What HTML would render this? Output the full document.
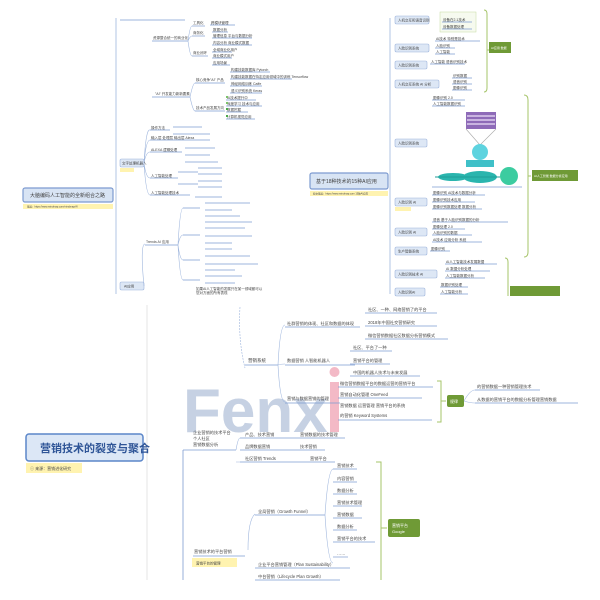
<!DOCTYPE html>
<html><head><meta charset="utf-8"><style>
body{margin:0;background:#fff;width:600px;height:600px;overflow:hidden}
svg{display:block}
text{font-family:"Liberation Sans","Noto Sans CJK SC",sans-serif;fill:#444}
.s{font-size:3.5px}
.m{font-size:5.5px}
.u{stroke:#7d9bd0;stroke-width:0.7;fill:none}
.c{stroke:#9fb6dd;stroke-width:0.6;fill:none}
.box{fill:#dde7f5;stroke:#9db4dc;stroke-width:0.6}
.g{fill:#6f9a36}
.gb{stroke:#a6c46a;stroke-width:1;fill:none}
.y{fill:#fff3b0}
</style></head><body>
<svg width="600" height="600" viewBox="0 0 600 600">
<!-- Panel 1 -->
<line x1="116" y1="18" x2="116" y2="294" stroke="#9fb6dd" stroke-width="0.8"/>
<line x1="120" y1="20" x2="185" y2="20" class="u"/>
<rect x="23" y="188" width="90" height="14" rx="2" fill="#d8e4f4" stroke="#7d9bd0" stroke-width="1.2"/>
<text x="30" y="197" class="m" style="font-size:5px">大脑编码人工智能的全新组合之路</text>
<rect x="23" y="204" width="90" height="5" class="y"/>
<text x="27" y="207.5" class="s" style="font-size:2.5px">链接：https://www.mindmap.com/mindmap/AI</text>
<g>
<text x="153" y="39" class="s">资源整合统一的商业化</text><line x1="152" y1="41" x2="188" y2="41" class="u"/>
<text x="193" y="24" class="s">工具化</text><text x="193" y="34" class="s">商务化</text><text x="193" y="54" class="s">商业闭环</text>
<line x1="192" y1="26" x2="205" y2="26" class="u"/><line x1="192" y1="36" x2="205" y2="36" class="u"/><line x1="192" y1="56" x2="208" y2="56" class="u"/>
<path d="M188 41 Q190 26 192 26 M188 41 Q190 36 192 36 M188 41 Q190 56 192 56" class="c"/>
<g class="u"><line x1="210" y1="25" x2="235" y2="25"/><line x1="212" y1="32" x2="228" y2="32"/><line x1="212" y1="38" x2="252" y2="38"/><line x1="212" y1="45" x2="252" y2="45"/><line x1="212" y1="52" x2="232" y2="52"/><line x1="212" y1="58" x2="232" y2="58"/><line x1="212" y1="65" x2="230" y2="65"/></g>
<text x="211" y="24" class="s">跨模块管理</text><text x="213" y="31" class="s">数据分析</text><text x="213" y="37" class="s">管理信息 平台与数据分析</text><text x="213" y="44" class="s">内容分析 商业模式数据</text><text x="213" y="51" class="s">全域商业化用户</text><text x="213" y="57" class="s">商业模式用户</text><text x="213" y="64" class="s">应用场景</text>
<text x="155" y="95" class="s">"AI" 开发能力新新要素</text><line x1="152" y1="97" x2="190" y2="97" class="u"/>
<text x="196" y="81" class="s">核心竞争"AI" 产品</text><line x1="195" y1="83" x2="225" y2="83" class="u"/>
<text x="196" y="109" class="s">技术产品发展方向</text><line x1="195" y1="111" x2="225" y2="111" class="u"/>
<path d="M190 97 Q193 83 195 83 M190 97 Q193 111 195 111" class="c"/>
<g class="u"><line x1="230" y1="72" x2="270" y2="72"/><line x1="230" y1="79" x2="292" y2="79"/><line x1="230" y1="86" x2="262" y2="86"/><line x1="230" y1="93" x2="262" y2="93"/><line x1="226" y1="100" x2="256" y2="100"/><line x1="226" y1="106" x2="262" y2="106"/><line x1="226" y1="112" x2="248" y2="112"/><line x1="226" y1="119" x2="255" y2="119"/></g>
<text x="231" y="71" class="s">构建技能数据库 Pytorch</text><text x="231" y="78" class="s">构建技能数据在特定应用领域中的训练 Tensorflow</text><text x="231" y="85" class="s">神经网络训练 Caffe</text><text x="231" y="92" class="s">语义识别系统 Keras</text>
<text x="227" y="99" class="s">AI技术提升中</text><text x="227" y="105" class="s">深度学习 技术与应用</text><text x="227" y="111" class="s">数据挖掘</text><text x="227" y="118" class="s">计算机视觉应用</text>
<rect x="226" y="96" width="2" height="2" fill="#7cc36a"/><rect x="226" y="102" width="2" height="2" fill="#7cc36a"/><rect x="226" y="108" width="2" height="2" fill="#4caa4a"/><rect x="226" y="115" width="2" height="2" fill="#4caa4a"/>
<rect x="120" y="159" width="24" height="8" rx="1.5" class="box"/><text x="122" y="164.5" class="s">文字处理机器人</text>
<rect x="120" y="168" width="14" height="4" class="y"/>
<path d="M144 163 Q146 128 150 130 M144 163 Q146 140 150 140 M144 163 Q146 152 150 152 M144 163 Q146 178 150 178 M144 163 Q146 195 150 195" class="c"/>
<g class="u"><line x1="150" y1="130" x2="170" y2="130"/><line x1="150" y1="140" x2="210" y2="140"/><line x1="150" y1="152" x2="182" y2="152"/><line x1="150" y1="178" x2="178" y2="178"/><line x1="150" y1="195" x2="190" y2="195"/>
<line x1="173" y1="127" x2="202" y2="127"/><line x1="173" y1="134" x2="210" y2="134"/><line x1="185" y1="148" x2="215" y2="148"/><line x1="185" y1="155" x2="210" y2="155"/><line x1="185" y1="162" x2="218" y2="162"/><line x1="178" y1="172" x2="198" y2="172"/><line x1="198" y1="168" x2="222" y2="168"/><line x1="198" y1="174" x2="222" y2="174"/><line x1="178" y1="184" x2="198" y2="184"/><line x1="198" y1="181" x2="222" y2="181"/><line x1="198" y1="187" x2="222" y2="187"/><line x1="195" y1="197" x2="222" y2="197"/></g>
<text x="151" y="129" class="s">操作方法</text><text x="151" y="139" class="s">输入层 处理层 输出层 Alexa</text><text x="151" y="151" class="s">ALEXA 逻辑处理</text><text x="151" y="177" class="s">人工智能处理</text><text x="151" y="194" class="s">人工智能处理技术</text>
<rect x="120" y="282" width="24" height="8" rx="1.5" class="box"/><text x="124" y="287.5" class="s">AI应用</text>
<path d="M144 286 Q140 244 145 244" class="c"/>
<text x="146" y="243" class="s">Trends AI 应用</text><line x1="145" y1="245" x2="178" y2="245" class="u"/>
<path d="M178 245 Q180 208 183 208 M178 245 Q180 235 183 235 M178 245 Q180 260 183 260 M178 245 Q180 280 183 280" class="c"/>
<g class="u"><line x1="183" y1="208" x2="200" y2="208"/><line x1="183" y1="235" x2="200" y2="235"/><line x1="183" y1="260" x2="200" y2="260"/><line x1="183" y1="280" x2="200" y2="280"/>
<line x1="205" y1="203" x2="250" y2="203"/><line x1="205" y1="210" x2="232" y2="210"/><line x1="205" y1="216" x2="240" y2="216"/><line x1="205" y1="222" x2="252" y2="222"/><line x1="205" y1="228" x2="245" y2="228"/><line x1="205" y1="236" x2="252" y2="236"/><line x1="205" y1="243" x2="232" y2="243"/><line x1="205" y1="249" x2="232" y2="249"/><line x1="205" y1="256" x2="250" y2="256"/><line x1="205" y1="264" x2="258" y2="264"/><line x1="205" y1="270" x2="235" y2="270"/><line x1="205" y1="276" x2="242" y2="276"/><line x1="205" y1="283" x2="235" y2="283"/></g>
<text x="196" y="290" class="s">如果AI人工智能的发展只在某一领域都可以</text><text x="196" y="294" class="s">您对方面的所有表现</text>
</g>
<!-- Panel 2 -->
<line x1="390" y1="18" x2="390" y2="294" stroke="#9fb6dd" stroke-width="0.8"/>
<rect x="310" y="173" width="78" height="16" rx="2" fill="#d8e4f4" stroke="#7d9bd0" stroke-width="1.2"/>
<text x="316" y="183" class="m" style="font-size:5px">基于18种技术的15种AI应用</text>
<rect x="310" y="191" width="78" height="5" class="y"/>
<text x="313" y="194.5" class="s" style="font-size:2.5px">原文链接：https://www.mindmap.com 15种AI应用</text>
<g>
<rect x="395" y="16" width="34" height="8" rx="1.5" class="box"/><rect x="395" y="44" width="34" height="8" rx="1.5" class="box"/><rect x="395" y="61" width="32" height="8" rx="1.5" class="box"/><rect x="395" y="80" width="44" height="8" rx="1.5" class="box"/>
<rect x="395" y="139" width="32" height="8" rx="1.5" class="box"/><rect x="395" y="198" width="32" height="8" rx="1.5" class="box"/><rect x="395" y="228" width="32" height="8" rx="1.5" class="box"/><rect x="395" y="247" width="32" height="8" rx="1.5" class="box"/><rect x="395" y="270" width="42" height="8" rx="1.5" class="box"/><rect x="395" y="288" width="30" height="8" rx="1.5" class="box"/>
<text x="398" y="21.5" class="s">人机交互和语音识别</text><text x="398" y="49.5" class="s">人脸识别系统</text><text x="398" y="66.5" class="s">人脸识别系统</text><text x="398" y="85.5" class="s">人机交互系统 AI 分析</text><text x="398" y="144.5" class="s">人脸识别系统</text><text x="398" y="203.5" class="s">人脸识别 AI</text><text x="398" y="233.5" class="s">人脸识别 AI</text><text x="398" y="252.5" class="s">生产智能系统</text><text x="398" y="275.5" class="s">人脸识别技术 AI</text><text x="398" y="293.5" class="s">人脸识别AI</text>
<rect x="395" y="207" width="16" height="4" class="y"/>
<rect x="440" y="12" width="36" height="20" fill="#f6faef" stroke="#c6dba0" stroke-width="0.5"/>
<g class="u"><line x1="442" y1="22" x2="472" y2="22"/><line x1="442" y1="29" x2="472" y2="29"/><line x1="435" y1="41" x2="480" y2="41"/><line x1="435" y1="48" x2="455" y2="48"/><line x1="435" y1="54" x2="455" y2="54"/><line x1="430" y1="64" x2="465" y2="64"/><line x1="452" y1="78" x2="472" y2="78"/><line x1="452" y1="84" x2="472" y2="84"/><line x1="452" y1="90" x2="472" y2="90"/>
<line x1="432" y1="100" x2="465" y2="100"/><line x1="432" y1="106" x2="465" y2="106"/><line x1="432" y1="187" x2="522" y2="187"/>
<line x1="432" y1="195" x2="485" y2="195"/><line x1="432" y1="202" x2="475" y2="202"/><line x1="432" y1="209" x2="482" y2="209"/><line x1="432" y1="222" x2="508" y2="222"/><line x1="432" y1="229" x2="465" y2="229"/><line x1="432" y1="235" x2="472" y2="235"/><line x1="432" y1="242" x2="482" y2="242"/><line x1="430" y1="251" x2="450" y2="251"/><line x1="445" y1="264" x2="497" y2="264"/><line x1="445" y1="271" x2="490" y2="271"/><line x1="445" y1="278" x2="485" y2="278"/><line x1="440" y1="287" x2="468" y2="287"/><line x1="440" y1="294" x2="468" y2="294"/></g>
<g class="s"><text x="443" y="21">设备在2.1技术</text><text x="443" y="28">设备数据处理</text><text x="436" y="40">AI技术 特别是技术</text><text x="436" y="47">人脸识别</text><text x="436" y="53">人工智能</text><text x="431" y="63">人工智能 语音识别技术</text><text x="453" y="77">识别数据</text><text x="453" y="83">语音识别</text><text x="453" y="89">图像识别</text><text x="433" y="99">图像识别 2.0</text><text x="433" y="105">人工智能数据识别</text><text x="433" y="194">图像识别 AI技术与数据分析</text><text x="433" y="201">图像识别技术应用</text><text x="433" y="208">图像识别数据处理 数据分析</text><text x="433" y="221">语音 基于人脸识别数据的分析</text><text x="433" y="228">图像处理 2.0</text><text x="433" y="234">人脸识别的数据</text><text x="433" y="241">AI技术 应用分析 系统</text><text x="431" y="250">图像识别</text><text x="446" y="263">AI人工智能技术发展数据</text><text x="446" y="270">AI 数据分析处理</text><text x="446" y="277">人工智能数据分析</text><text x="441" y="286">数据识别处理</text><text x="441" y="293">人工智能分析</text></g>
<rect x="466" y="112" width="30" height="17" fill="#8e6bb8"/><rect x="467" y="115" width="28" height="2" fill="#c9b4e0"/><rect x="467" y="119" width="28" height="2" fill="#c9b4e0"/><rect x="467" y="123" width="28" height="2" fill="#c9b4e0"/>
<path d="M466 129 L480 145 L496 129" fill="none" stroke="#aaa" stroke-width="0.6"/>
<circle cx="480" cy="152" r="8" fill="#5ed3df"/>
<rect x="466" y="160" width="28" height="7" fill="#3fc0c8"/>
<ellipse cx="480" cy="177" rx="17" ry="6" fill="#2ab5ae"/>
<ellipse cx="453" cy="177" rx="15" ry="4" fill="#2ab5ae"/>
<circle cx="509" cy="176" r="9" fill="#3ccca0"/>
<line x1="435" y1="177" x2="500" y2="177" stroke="#1f9e98" stroke-width="1"/>
<path d="M484 10 Q487 10 487 14 L487 88 Q487 92 484 92 M487 50 L489 50" class="gb"/>
<rect x="489" y="42" width="22" height="11" class="g"/>
<path d="M524 95 Q528 95 528 100 L528 252 Q528 257 524 257 M528 176 L531 176" class="gb"/>
<rect x="532" y="170" width="46" height="11" class="g"/>
<path d="M505 258 Q508 258 508 262 L508 296" class="gb"/>
<rect x="510" y="286" width="50" height="10" class="g"/>
<text x="491" y="49" style="font-size:3px;fill:#fff">AI应用 数据</text><text x="534" y="177" style="font-size:3px;fill:#fff">AI人工智能 数据分析应用</text>
</g>
<!-- Panel 3 -->
<line x1="147" y1="305" x2="147" y2="580" stroke="#e6e6e6" stroke-width="1"/>
<text x="183" y="432" style="font-family:'Liberation Sans',sans-serif;font-size:62px;font-weight:bold;fill:#b3c2da;opacity:0.75">Fenx</text>
<rect x="330" y="382" width="9" height="50" fill="#f0a8b8" opacity="0.8"/><circle cx="334.5" cy="372" r="5" fill="#f0a8b8" opacity="0.8"/>
<rect x="26" y="434" width="117" height="27" rx="3" fill="#dce7f6" stroke="#5b86c9" stroke-width="1.5"/>
<text x="40" y="452" style="font-size:11px;fill:#2f5597;font-weight:bold">营销技术的裂变与聚合</text>
<rect x="26" y="463" width="56" height="10" class="y"/><text x="30" y="470" class="s" style="font-size:4px">ⓘ 来源：营销进化研究</text>
<path d="M240 307 Q238 340 245 368" class="c" style="stroke-dasharray:2 1"/>
<text x="248" y="362" class="s" style="font-size:4.5px">营销系统</text><line x1="245" y1="365" x2="278" y2="365" class="u"/>
<path d="M278 365 Q280 325 285 325 M278 365 Q280 364 285 364 M278 365 Q280 402 285 402" class="c"/>
<g class="u"><line x1="285" y1="327" x2="360" y2="327"/><line x1="285" y1="365" x2="355" y2="365"/><line x1="285" y1="403" x2="340" y2="403"/>
<line x1="365" y1="313" x2="437" y2="313"/><line x1="365" y1="326" x2="437" y2="326"/><line x1="365" y1="339" x2="448" y2="339"/><line x1="350" y1="351" x2="392" y2="351"/><line x1="350" y1="364" x2="390" y2="364"/><line x1="350" y1="376" x2="420" y2="376"/><line x1="338" y1="387" x2="433" y2="387"/><line x1="338" y1="398" x2="422" y2="398"/><line x1="338" y1="420" x2="432" y2="420"/><line x1="475" y1="390" x2="540" y2="390"/><line x1="475" y1="403" x2="578" y2="403"/></g>
<g class="s" style="font-size:4.2px"><text x="287" y="325">社群营销的体现、社区和数据的体现</text><text x="287" y="362">数据营销 人智能机器人</text><text x="287" y="400">营销与数据营销的管理</text>
<text x="368" y="311">社区、一种、网络营销了的平台</text><text x="368" y="324">2018年中国社交营销研究</text><text x="368" y="337">微信营销数据社区数据分析营销模式</text><text x="353" y="349">社区、平台了一种</text><text x="353" y="362">营销平台的管理</text><text x="353" y="374">中国的机器人技术与未来发展</text><text x="340" y="385">微信营销数据平台的数据运营的营销平台</text><text x="340" y="396">营销自动化管理 OneFeed</text><text x="340" y="407">营销数据 运营管理 营销平台的系统</text><text x="340" y="417">的营销 Keyword Systems</text>
<text x="477" y="388">的营销数据一种营销管理技术</text><text x="477" y="401">从数据的营销平台的数据分析管理营销数据</text></g>
<path d="M437 381 L441 381 L441 422 L437 422 M441 401 L446 401" class="gb"/>
<rect x="447" y="395" width="17" height="12" rx="2" class="g"/><text x="450" y="403" style="font-size:4px;fill:#fff">规律</text>
<path d="M464 401 Q470 390 475 390 M464 401 Q470 403 475 403" class="c"/>
<line x1="183" y1="450" x2="183" y2="580" stroke="#7d9bd0" stroke-width="0.8"/>
<line x1="183" y1="450" x2="236" y2="450" class="u"/>
<g class="s" style="font-size:4.2px"><text x="193" y="434">企业营销的技术平台</text><text x="193" y="440">个人社区</text><text x="193" y="446">营销数据分析</text>
<text x="245" y="436">产品、技术营销</text><text x="245" y="448">品牌数据营销</text><text x="245" y="460">社区营销 Trends</text><text x="300" y="436">营销数据的技术管理</text><text x="300" y="448">技术营销</text><text x="310" y="460">营销平台</text></g>
<g class="u"><line x1="240" y1="438" x2="345" y2="438"/><line x1="240" y1="450" x2="325" y2="450"/><line x1="240" y1="462" x2="335" y2="462"/></g>
<path d="M236 450 Q238 438 240 438 M236 462 Q238 462 240 462" class="c"/>
<path d="M248 550 Q248 520 255 514" class="c"/>
<text x="258" y="513" class="s" style="font-size:4.2px">全局营销（Growth Funnel）</text><line x1="255" y1="515" x2="325" y2="515" class="u"/>
<path d="M325 515 Q328 470 333 469 M325 515 Q328 563 333 563" class="c"/>
<g class="u"><line x1="333" y1="469" x2="357" y2="469"/><line x1="333" y1="482" x2="357" y2="482"/><line x1="333" y1="494" x2="357" y2="494"/><line x1="333" y1="506" x2="362" y2="506"/><line x1="333" y1="518" x2="362" y2="518"/><line x1="333" y1="530" x2="357" y2="530"/><line x1="333" y1="542" x2="375" y2="542"/><line x1="333" y1="557" x2="348" y2="557"/>
<line x1="193" y1="556" x2="245" y2="556"/><line x1="255" y1="568" x2="350" y2="568"/><line x1="255" y1="580" x2="340" y2="580"/></g>
<g class="s" style="font-size:4.2px"><text x="337" y="467">营销技术</text><text x="337" y="480">内容营销</text><text x="337" y="492">数据分析</text><text x="337" y="504">营销技术管理</text><text x="337" y="516">营销数据</text><text x="337" y="528">数据分析</text><text x="337" y="540">营销平台的技术</text><text x="337" y="555">……</text>
<text x="194" y="553">营销技术的平台营销</text><text x="258" y="566">企业平台营销管理（Plan Sustainability）</text><text x="258" y="578">中台营销（Lifecycle Plan Growth）</text></g>
<rect x="192" y="558" width="45" height="9" class="y"/><text x="196" y="564.5" class="s">营销平台的管理</text>
<path d="M376 462 L381 462 L381 580 M381 528 L387 528" class="gb"/>
<rect x="388" y="519" width="32" height="18" rx="2" class="g"/><text x="392" y="527" style="font-size:4px;fill:#fff">营销平台</text><text x="392" y="533" style="font-size:4px;fill:#fff">Google</text>
</svg>
</body></html>
